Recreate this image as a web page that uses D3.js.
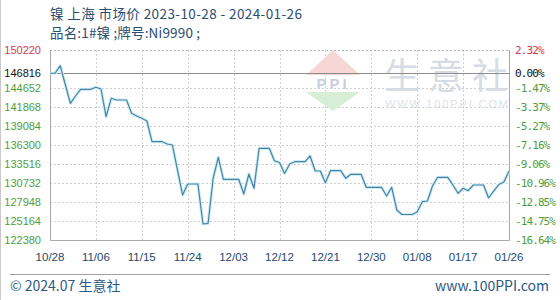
<!DOCTYPE html>
<html>
<head>
<meta charset="utf-8">
<script src="https://cdn.jsdelivr.net/npm/d3@7"></script>
<style>
  html, body { margin: 0; padding: 0; background: #fff; }
  svg { display: block; }
</style>
</head>
<body>
<svg id="chart" width="560" height="300"></svg>
<script>
'use strict';

// daily prices, 2023-10-28 .. 2024-01-26 (weekends carry the Friday value)
var startDay = "2023-10-28";
var priceValues = [
    146816, 146816, 147920, 145165, 142410, 143480, 144461, 144461, 144461, 144754,
    144505, 140446, 143143, 142893, 142893, 142893, 140945, 140549, 140212, 139816,
    136780, 136780, 136780, 136446, 136300, 132636, 128973, 130585, 130585, 130585,
    124724, 124826, 131464, 134497, 131274, 131274, 131274, 131274, 129120, 132050,
    129955, 135816, 135816, 135816, 133999, 133735, 132124, 133516, 133853, 133853,
    133853, 134688, 132490, 132490, 130775, 132534, 132534, 132534, 131420, 132006,
    132006, 132006, 130101, 130101, 130101, 130101, 128827, 130101, 126775, 126116,
    126116, 126116, 126482, 127991, 128094, 130292, 131567, 131567, 131567, 130438,
    129222, 129955, 129603, 130438, 130438, 130438, 128534, 129559, 130512, 130878,
    132490
];
var baseValue = 146816;
var yTicks = [150220, 146816, 144652, 141868, 139084, 136300, 133516, 130732, 127948, 125164, 122380];
var xTickLabels = ["10/28", "11/06", "11/15", "11/24", "12/03", "12/12", "12/21", "12/30", "01/08", "01/17", "01/26"];
var xTickStep = 9;

var titleText = "镍 上海 市场价 2023-10-28 - 2024-01-26";
var subTitleText = "品名:1#镍 ;牌号:Ni9990 ;";

var plot = { left: 50, right: 509, top: 50, bottom: 240 };
var cjkFont = "'Noto Sans CJK SC', 'Noto Sans', sans-serif";
var numFont = "'Liberation Sans', Arial, sans-serif";
var monoFont = "'DejaVu Sans Mono', 'Liberation Mono', monospace";
var upColor = "#d8394f", downColor = "#4e9e3e", baseColor = "#111";

var svg = d3.select("#chart");
var parseDay = d3.timeParse("%Y-%m-%d");
var day0 = parseDay(startDay);

var series = priceValues.map(function (v, i) {
    return { date: d3.timeDay.offset(day0, i), value: v };
});

var x = d3.scaleTime()
    .domain([day0, series[series.length - 1].date])
    .range([plot.left, plot.right]);

var y = d3.scaleLinear()
    .domain([yTicks[yTicks.length - 1], yTicks[0]])
    .range([plot.bottom, plot.top]);

var xTicks = xTickLabels.map(function (lbl, i) {
    return { date: d3.timeDay.offset(day0, i * xTickStep), label: lbl };
});

function pctText(v) {
    var p = (v - baseValue) / baseValue * 100;
    return p.toFixed(2) + "%";
}

function tickColor(v) {
    if (v > baseValue) return upColor;
    if (v < baseValue) return downColor;
    return baseColor;
}

// left frame line
svg.append("line")
    .attr("x1", 0.5).attr("x2", 0.5)
    .attr("y1", 0).attr("y2", 300)
    .attr("stroke", "#c8c8c8");

// titles
svg.append("text")
    .attr("x", 50).attr("y", 19)
    .attr("font-family", cjkFont)
    .attr("font-size", 13.5)
    .attr("fill", "#2b4d6e")
    .attr("textLength", 252)
    .attr("lengthAdjust", "spacing")
    .text(titleText);

svg.append("text")
    .attr("x", 50).attr("y", 38)
    .attr("font-family", cjkFont)
    .attr("font-size", 13.5)
    .attr("fill", "#2b4d6e")
    .attr("textLength", 150)
    .attr("lengthAdjust", "spacing")
    .text(subTitleText);

// grid
var grid = svg.append("g").attr("class", "grid");

grid.selectAll("line.h")
    .data(yTicks.filter(function (v, i) { return i > 1 && i < yTicks.length - 1; }))
    .enter().append("line")
    .attr("class", "h")
    .attr("x1", plot.left).attr("x2", plot.right)
    .attr("y1", function (d) { return Math.round(y(d)) + 0.5; })
    .attr("y2", function (d) { return Math.round(y(d)) + 0.5; })
    .attr("stroke", "#cfcfcf")
    .attr("stroke-dasharray", "2,2");

grid.selectAll("line.v")
    .data(xTicks.slice(1, xTicks.length - 1))
    .enter().append("line")
    .attr("class", "v")
    .attr("x1", function (d) { return Math.round(x(d.date)) + 0.5; })
    .attr("x2", function (d) { return Math.round(x(d.date)) + 0.5; })
    .attr("y1", plot.top).attr("y2", plot.bottom)
    .attr("stroke", "#cfcfcf")
    .attr("stroke-dasharray", "2,2");

// top border (dotted like grid)
grid.append("line")
    .attr("x1", plot.left).attr("x2", plot.right)
    .attr("y1", plot.top + 0.5).attr("y2", plot.top + 0.5)
    .attr("stroke", "#b5b5b5")
    .attr("stroke-dasharray", "2,2");

// watermark
var wm = svg.append("g").attr("class", "watermark");
wm.append("path")
    .attr("d", "M333,50 L360,75 L306,75 Z")
    .attr("fill", "#f7d6d6");
wm.append("path")
    .attr("d", "M306,92 L360,92 L333,111 Z")
    .attr("fill", "#d6eed6");
wm.append("text")
    .attr("x", 333).attr("y", 89)
    .attr("text-anchor", "middle")
    .attr("font-family", numFont)
    .attr("font-weight", "bold")
    .attr("font-size", 15)
    .attr("fill", "#c9d0dc")
    .attr("letter-spacing", 3)
    .text("PPI");
wm.append("text")
    .attr("x", 384).attr("y", 89)
    .attr("font-family", cjkFont)
    .attr("font-size", 36)
    .attr("fill", "#d6dce3")
    .attr("textLength", 124)
    .attr("lengthAdjust", "spacing")
    .text("生意社");
wm.append("text")
    .attr("x", 385).attr("y", 108)
    .attr("font-family", numFont)
    .attr("font-size", 11)
    .attr("fill", "#dde2e8")
    .attr("textLength", 123)
    .attr("lengthAdjust", "spacing")
    .text("WWW.100PPI.COM");

// base line
svg.append("line")
    .attr("x1", plot.left).attr("x2", plot.right)
    .attr("y1", Math.round(y(baseValue)) + 0.5)
    .attr("y2", Math.round(y(baseValue)) + 0.5)
    .attr("stroke", "#8c8c8c");

// plot frame: left, right, bottom
svg.append("path")
    .attr("d", "M" + (plot.left + 0.5) + "," + plot.top +
        "V" + (plot.bottom + 0.5) + "H" + (plot.right + 0.5) + "V" + plot.top)
    .attr("fill", "none")
    .attr("stroke", "#a8a8a8");

// price line with a soft halo
var line = d3.line()
    .x(function (d) { return x(d.date); })
    .y(function (d) { return y(d.value); });

svg.append("path")
    .datum(series)
    .attr("d", line)
    .attr("fill", "none")
    .attr("stroke", "#cdeef6")
    .attr("stroke-width", 3.2)
    .attr("stroke-linejoin", "round");

svg.append("path")
    .datum(series)
    .attr("d", line)
    .attr("fill", "none")
    .attr("stroke", "#4a82a3")
    .attr("stroke-width", 1.2)
    .attr("stroke-linejoin", "round");

// left axis labels
svg.append("g").selectAll("text")
    .data(yTicks)
    .enter().append("text")
    .attr("x", 41)
    .attr("y", function (d) { return y(d); })
    .attr("dy", "0.35em")
    .attr("text-anchor", "end")
    .attr("font-family", numFont)
    .attr("font-size", 11)
    .attr("fill", tickColor)
    .text(function (d) { return d; });

// right axis labels (percent vs base)
svg.append("g").selectAll("text")
    .data(yTicks)
    .enter().append("text")
    .attr("x", 515)
    .attr("y", function (d) { return y(d); })
    .attr("dy", "0.35em")
    .attr("font-family", monoFont)
    .attr("font-size", 11)
    .attr("letter-spacing", -0.9)
    .attr("fill", tickColor)
    .text(pctText);

// x axis labels
svg.append("g").selectAll("text")
    .data(xTicks)
    .enter().append("text")
    .attr("x", function (d) { return x(d.date); })
    .attr("y", 261)
    .attr("text-anchor", "middle")
    .attr("font-family", numFont)
    .attr("font-size", 11.5)
    .attr("fill", "#1f4a6a")
    .text(function (d) { return d.label; });

// footer
svg.append("line")
    .attr("x1", 10).attr("x2", 550)
    .attr("y1", 274.5).attr("y2", 274.5)
    .attr("stroke", "#a0a0a0");

svg.append("text")
    .attr("x", 10).attr("y", 291)
    .attr("font-family", cjkFont)
    .attr("font-size", 14)
    .attr("fill", "#2c5a85")
    .text("© 2024.07 生意社");

svg.append("text")
    .attr("x", 549).attr("y", 291)
    .attr("text-anchor", "end")
    .attr("font-family", cjkFont)
    .attr("font-size", 14)
    .attr("fill", "#2c5a85")
    .text("www.100PPI.com");
</script>
</body>
</html>
